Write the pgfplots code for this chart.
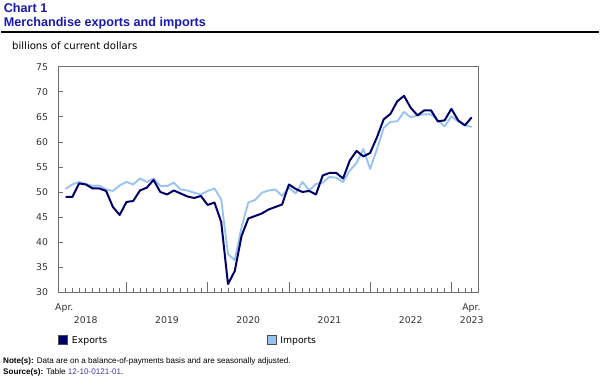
\documentclass[border=0pt]{standalone}
\usepackage{pgfplots}
\usepackage{pgfplotstable}
\pgfplotsset{compat=1.18}
\usepackage{fontspec}
\setmainfont{DejaVu Sans}
\newfontfamily\arial{Liberation Sans}
\definecolor{titleblue}{RGB}{25,25,175}
\definecolor{expc}{RGB}{0,0,102}
\definecolor{impc}{RGB}{150,195,240}
\definecolor{axgray}{RGB}{110,110,110}
\definecolor{linkblue}{RGB}{60,60,170}

\pgfplotstableread{
i exp imp
0 49.0 50.6
1 49.0 51.5
2 51.7 52.0
3 51.5 51.6
4 50.7 51.2
5 50.7 51.3
6 50.2 50.5
7 47.0 50.2
8 45.4 51.3
9 48.0 52.0
10 48.2 51.5
11 50.3 52.7
12 50.85 52.0
13 52.4 52.7
14 50.0 51.2
15 49.5 51.2
16 50.3 51.85
17 49.7 50.5
18 49.1 50.3
19 48.8 49.85
20 49.2 49.5
21 47.4 50.2
22 47.9 50.7
23 44.0 48.5
24 31.6 37.6
25 34.2 36.4
26 41.2 42.9
27 44.7 47.9
28 45.2 48.4
29 45.7 49.85
30 46.5 50.3
31 47.0 50.5
32 47.5 49.2
33 51.5 50.85
34 50.6 49.7
35 50.0 52.0
36 50.2 50.3
37 49.5 51.6
38 53.3 51.85
39 53.8 53.0
40 53.8 52.85
41 52.7 52.0
42 56.3 54.3
43 58.2 55.8
44 57.1 58.6
45 57.8 54.6
46 60.9 58.5
47 64.5 62.8
48 65.6 64.0
49 68.1 64.1
50 69.2 66.0
51 66.8 64.9
52 65.3 65.3
53 66.3 65.5
54 66.3 65.5
55 64.1 64.3
56 64.3 63.1
57 66.6 65.1
58 64.3 64.1
59 63.3 63.3
60 64.9 63.0
}\datatable

\begin{document}
\begin{tikzpicture}[x=1pt,y=1pt]
\path (0,0) rectangle (450,285);
% titles
\node[anchor=base west, inner sep=0, font=\arial\bfseries\fontsize{9.5}{11}\selectfont, text=titleblue] at (2,275.75) {Chart 1};
\node[anchor=base west, inner sep=0, font=\arial\bfseries\fontsize{9.5}{11}\selectfont, text=titleblue] at (2,265) {Merchandise exports and imports};
\draw[line width=1.4pt] (0,261.2) -- (450,261.2);
\node[anchor=base west, inner sep=0, font=\fontsize{7.6}{9}\selectfont] at (8.25,248) {billions of current dollars};

\begin{axis}[
 at={(43.5pt,65.25pt)}, anchor=south west,
 scale only axis, width=315.75pt, height=169.5pt,
 xmin=-1, xmax=61, ymin=30, ymax=75,
 axis line style={draw=axgray, line width=0.9pt},
 ytick={30,35,...,75},
 minor ytick={30,35,...,75},
 major y tick style={draw=none},
 xtick={9,21,33,45,57}, xticklabels={},
 minor xtick={0,...,60},
 extra x ticks={3,15,27,39,51,60},
 extra x tick labels={2018,2019,2020,2021,2022,2023},
 extra x tick style={major tick length=0pt},
 major tick length=7.5pt, minor tick length=3pt,
 tick style={draw=axgray, line width=0.6pt},
 xtick pos=bottom, ytick pos=left,
 tick align=inside,
 ticklabel style={font=\fontsize{7}{8}\selectfont, text=black!80},
 yticklabel style={xshift=-4.5pt},
 xticklabel style={anchor=base, yshift=-23.5pt},
 /pgf/number format/assume math mode=true,
]
\addplot[impc, line width=1.4pt, line join=round] table[x=i,y=imp]{\datatable};
\addplot[expc, line width=1.5pt, line join=round] table[x=i,y=exp]{\datatable};
\end{axis}

% Apr. labels
\node[anchor=base, inner sep=0, font=\fontsize{7}{8}\selectfont, text=black!80] at (47.7,51.75) {Apr.};
\node[anchor=base, inner sep=0, font=\fontsize{7}{8}\selectfont, text=black!80] at (354,51.75) {Apr.};

% legend
\draw[fill=expc, draw=black!70, line width=0.4pt] (43.5,25.7) rectangle (50.25,32.5);
\node[anchor=base west, inner sep=0, font=\fontsize{7}{8}\selectfont] at (53.25,26.25) {Exports};
\draw[fill=impc, draw=black!70, line width=0.4pt] (200.5,25.7) rectangle (207.2,32.5);
\node[anchor=base west, inner sep=0, font=\fontsize{7}{8}\selectfont] at (210,26.25) {Imports};

% notes
\node[anchor=base west, inner sep=0, font=\arial\fontsize{6.1}{7}\selectfont] at (1.5,11.25) {\textbf{Note(s):} Data are on a balance-of-payments basis and are seasonally adjusted.};
\node[anchor=base west, inner sep=0, font=\arial\fontsize{6.1}{7}\selectfont] at (1.5,3.4) {\textbf{Source(s):} Table \textcolor{linkblue}{12-10-0121-01}.};
\end{tikzpicture}
\end{document}
